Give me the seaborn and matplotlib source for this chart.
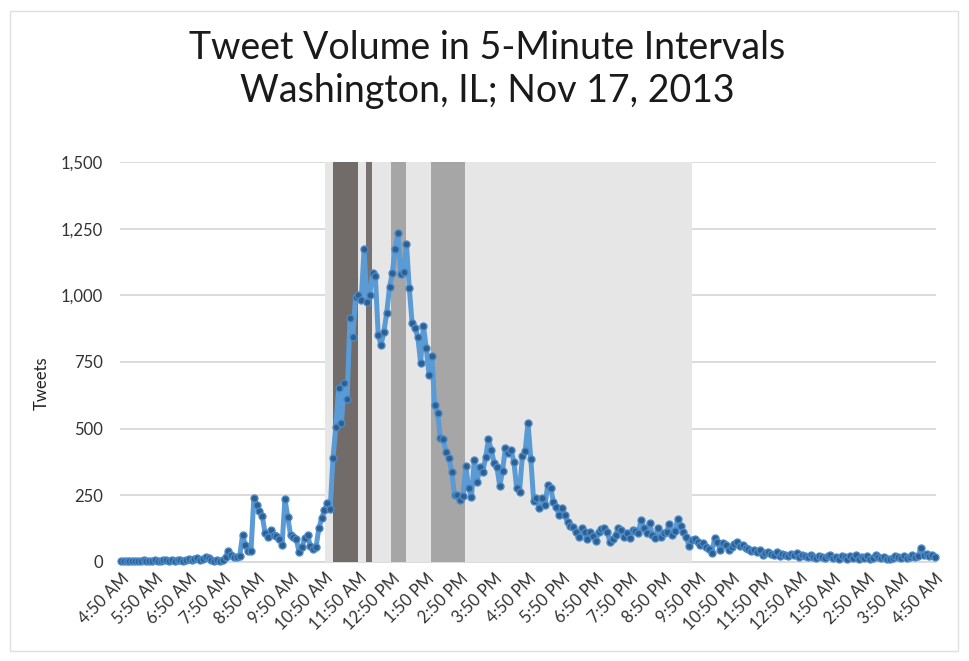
import matplotlib
matplotlib.use("Agg")
import matplotlib.pyplot as plt
from matplotlib.patches import Rectangle
import seaborn as sns
import pandas as pd
import numpy as np

# Tweets per 5-minute interval, 4:50 AM Nov 17 through 4:50 AM Nov 18
tweets = [
    3, 2, 4, 2, 3, 5, 3, 2, 6, 4, 3, 5,
    8, 4, 2, 6, 9, 5, 7, 4, 8, 6, 3, 9,
    12, 7, 10, 16, 9, 13, 20, 14, 6, 2, 8, 5,
    8, 20, 40, 26, 18, 20, 22, 101, 64, 41, 41, 241,
    214, 193, 172, 107, 95, 120, 101, 97, 85, 64, 237, 168,
    100, 92, 88, 36, 55, 89, 102, 60, 50, 55, 126, 164,
    195, 220, 197, 389, 508, 651, 520, 673, 610, 914, 845, 995,
    1001, 983, 1173, 976, 1001, 1083, 1073, 851, 814, 864, 933, 1030,
    1085, 1173, 1233, 1080, 1089, 1193, 1026, 895, 876, 845, 748, 885,
    801, 701, 772, 589, 560, 464, 460, 414, 389, 339, 251, 251,
    233, 248, 360, 276, 245, 383, 301, 357, 339, 392, 460, 420,
    373, 355, 285, 343, 426, 410, 420, 376, 276, 264, 397, 418,
    523, 385, 230, 239, 201, 239, 214, 289, 276, 226, 205, 176,
    201, 176, 150, 135, 132, 114, 95, 126, 112, 88, 114, 96,
    80, 114, 122, 126, 114, 74, 88, 100, 126, 120, 95, 110,
    90, 120, 118, 108, 157, 126, 110, 145, 100, 89, 126, 95,
    110, 114, 142, 100, 118, 160, 135, 114, 92, 60, 82, 88,
    76, 64, 72, 58, 50, 32, 89, 76, 45, 70, 62, 45,
    58, 66, 76, 60, 64, 51, 48, 42, 46, 39, 44, 26,
    34, 38, 30, 28, 36, 24, 30, 26, 22, 30, 25, 32,
    20, 26, 22, 18, 28, 20, 16, 24, 19, 14, 22, 26,
    15, 20, 12, 24, 18, 10, 22, 16, 26, 12, 18, 14,
    22, 10, 16, 28, 20, 14, 18, 12, 10, 16, 22, 18,
    14, 24, 16, 20, 28, 18, 22, 52, 26, 30, 22, 28,
    20,
]

hour_labels = [
    "4:50 AM", "5:50 AM", "6:50 AM", "7:50 AM", "8:50 AM", "9:50 AM",
    "10:50 AM", "11:50 AM", "12:50 PM", "1:50 PM", "2:50 PM", "3:50 PM",
    "4:50 PM", "5:50 PM", "6:50 PM", "7:50 PM", "8:50 PM", "9:50 PM",
    "10:50 PM", "11:50 PM", "12:50 AM", "1:50 AM", "2:50 AM", "3:50 AM",
    "4:50 AM",
]

y_ticks = [0, 250, 500, 750, 1000, 1250, 1500]

# Event windows, in 5-minute intervals after 4:50 AM
window_start = [72.3, 74.9, 86.7, 95.6, 109.6]
window_end = [202.0, 83.8, 88.8, 100.8, 121.6]
window_color = ["#e7e6e6", "#716b69", "#777170", "#a6a6a6", "#a6a6a6"]

sns.set_theme(style="white")
plt.rcParams["font.family"] = ["Lato", "DejaVu Sans"]

fig = plt.figure(figsize=(9.69, 6.61), dpi=100)
ax = fig.add_axes([0.1234, 0.1498, 0.843, 0.6051])

# thin chart frame
fig.patches.append(Rectangle((10 / 969, 10 / 661), 948 / 969, 640 / 661,
                             transform=fig.transFigure, fill=False,
                             edgecolor="#e0e0e0", lw=1.0))

df = pd.DataFrame({"interval": np.arange(len(tweets)), "tweets": tweets})

for s, e, c in zip(window_start, window_end, window_color):
    ax.axvspan(s, e, color=c, lw=0, zorder=1)

sns.lineplot(
    data=df, x="interval", y="tweets", ax=ax,
    color="#5b9bd5", linewidth=3.6, marker="o", markersize=5,
    markerfacecolor="#2f5f8f", markeredgecolor="#4a8ac8", markeredgewidth=1.0,
    zorder=3, clip_on=False,
)

ax.set_xlim(-0.5, 288.5)
ax.set_ylim(0, 1500)
ax.set_yticks(y_ticks)
ax.set_yticklabels([f"{v:,}" for v in y_ticks])
ax.set_xticks(range(0, 289, 12))
ax.set_xticklabels(hour_labels, rotation=45, ha="right", rotation_mode="anchor")

ax.set_axisbelow(True)
ax.yaxis.grid(True, color="#d9d9d9", lw=1.3)
ax.xaxis.grid(False)
for side in ["top", "left", "right"]:
    ax.spines[side].set_visible(False)
ax.spines["bottom"].set_color("#d9d9d9")
ax.spines["bottom"].set_linewidth(1.3)
ax.spines["bottom"].set_zorder(0.6)

ax.tick_params(axis="x", length=0, pad=6, labelsize=12, labelcolor="#333333")
ax.tick_params(axis="y", length=0, pad=12, labelsize=12, labelcolor="#333333")
ax.set_xlabel("")
ax.set_ylabel("")

fig.text(42 / 969, 1 - 383 / 661, "Tweets", rotation=90, ha="center", va="center",
         fontsize=12, color="#222222")
fig.text(0.5026, 1 - 30 / 661, "Tweet Volume in 5-Minute Intervals\nWashington, IL; Nov 17, 2013",
         ha="center", va="top", fontsize=27, color="#1a1a1a", linespacing=1.25)

fig.savefig("out.png", dpi=100)
